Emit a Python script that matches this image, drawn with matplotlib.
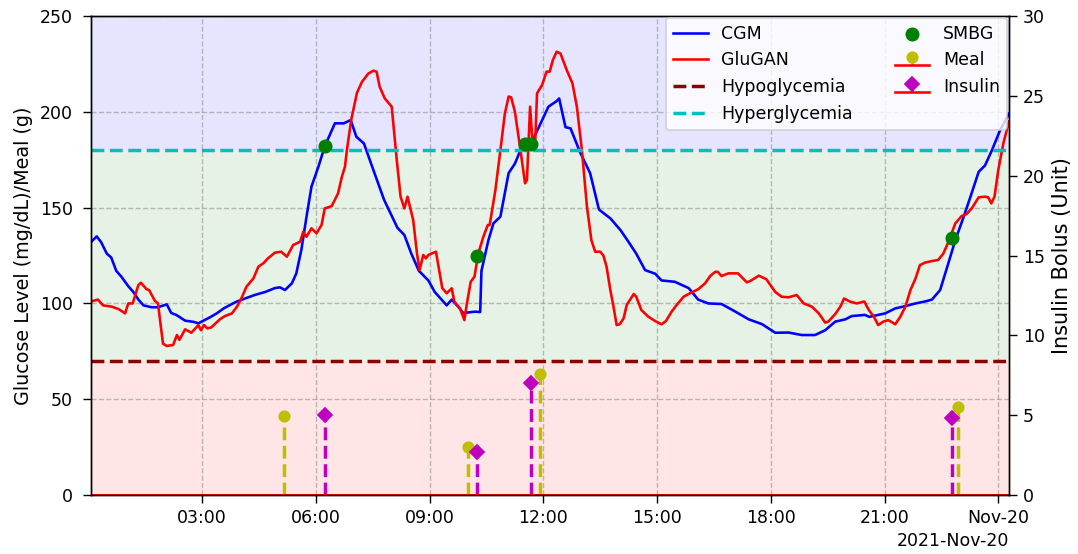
import matplotlib
matplotlib.use("Agg")
import matplotlib.pyplot as plt
import matplotlib.dates as mdates
import numpy as np
import pandas as pd

day0 = pd.Timestamp("2021-11-19")

# CGM trace (clock time on 2021-11-19, hours >= 24 roll into next day)
cgm_time = [
    "00:04", "00:13", "00:20", "00:29", "00:36", "00:44", "00:52", "01:03", "01:11", "01:19",
    "01:27", "01:40", "01:50", "02:04", "02:11", "02:19", "02:33", "02:46", "02:54", "03:02",
    "03:12", "03:23", "03:34", "03:47", "03:55", "04:08", "04:23", "04:40", "04:55", "05:03",
    "05:11", "05:22", "05:29", "05:37", "05:45", "05:53", "06:04", "06:14", "06:30", "06:44",
    "06:55", "07:04", "07:16", "07:31", "07:48", "08:09", "08:20", "08:31", "08:43", "08:58",
    "09:08", "09:27", "09:35", "09:46", "09:53", "10:12", "10:20", "10:22", "10:33", "10:41",
    "10:52", "11:05", "11:15", "11:26", "11:39", "11:52", "12:08", "12:21", "12:25", "12:35",
    "12:43", "12:58", "13:14", "13:28", "13:46", "14:02", "14:13", "14:27", "14:41", "14:57",
    "15:07", "15:28", "15:50", "16:05", "16:21", "16:42", "17:04", "17:25", "17:46", "18:07",
    "18:28", "18:49", "19:10", "19:26", "19:42", "19:58", "20:08", "20:29", "20:36", "21:01",
    "21:17", "21:33", "21:49", "22:04", "22:15", "22:28", "22:41", "22:52", "23:05", "23:16",
    "23:29", "23:39", "23:50", "24:03", "24:17",
]
cgm_value = [
    132, 135, 132, 126, 124, 117, 114, 109, 106, 102,
    99, 98, 98, 99.5, 95, 94, 91, 90.4, 89.6, 91,
    92.7, 94.8, 97.4, 99.7, 101, 102.6, 104.4, 106, 108, 108.4,
    107, 110.5, 115.7, 128, 145, 161, 171.4, 182, 194, 194,
    195.7, 187, 183.5, 169.6, 154, 139.5, 135.7, 126, 117, 112,
    106, 99, 102, 98, 95, 95.7, 95.5, 117, 133, 141.8,
    145.3, 168, 173, 181.8, 182.7, 191.4, 202.7, 205.6, 207, 192,
    191.4, 179, 168, 149, 144.4, 138.3, 133, 126, 117.4, 115.5,
    112, 111.3, 108, 102, 100, 99.7, 95.7, 91.7, 89.2, 84.7,
    84.8, 83.5, 83.5, 86, 90.5, 91.7, 93.4, 94, 93, 94.8,
    97.4, 98.6, 100, 101, 102, 107, 121, 133, 145, 155.7,
    168.7, 172, 180, 190.5, 199,
]

# GluGAN generated trace
gan_time = [
    "00:04", "00:15", "00:23", "00:37", "00:48", "00:58", "01:03", "01:10", "01:19", "01:23",
    "01:32", "01:36", "01:45", "01:50", "01:58", "02:04", "02:14", "02:20", "02:24", "02:33",
    "02:43", "02:54", "02:58", "03:03", "03:08", "03:14", "03:28", "03:36", "03:47", "03:55",
    "04:02", "04:10", "04:21", "04:29", "04:37", "04:44", "04:55", "05:05", "05:14", "05:24",
    "05:35", "05:40", "05:45", "05:53", "06:01", "06:09", "06:14", "06:25", "06:35", "06:41",
    "06:46", "06:49", "06:56", "07:05", "07:13", "07:23", "07:31", "07:36", "07:41", "07:49",
    "08:00", "08:08", "08:14", "08:20", "08:25", "08:34", "08:40", "08:44", "08:50", "08:54",
    "08:58", "09:10", "09:15", "09:20", "09:27", "09:35", "09:39", "09:48", "09:55", "09:59",
    "10:05", "10:11", "10:17", "10:25", "10:32", "10:35", "10:44", "10:52", "10:59", "11:05",
    "11:09", "11:15", "11:23", "11:31", "11:34", "11:39", "11:43", "11:47", "11:50", "11:58",
    "12:05", "12:10", "12:15", "12:21", "12:27", "12:37", "12:46", "12:53", "13:01", "13:09",
    "13:16", "13:22", "13:30", "13:35", "13:40", "13:46", "13:51", "13:56", "14:01", "14:07",
    "14:12", "14:23", "14:27", "14:35", "14:46", "14:57", "15:07", "15:14", "15:23", "15:31",
    "15:42", "15:52", "16:05", "16:16", "16:24", "16:32", "16:36", "16:42", "16:53", "17:08",
    "17:22", "17:28", "17:41", "17:53", "18:07", "18:17", "18:28", "18:41", "18:52", "19:05",
    "19:16", "19:26", "19:31", "19:42", "19:50", "19:56", "20:05", "20:16", "20:28", "20:35",
    "20:43", "20:50", "20:58", "21:06", "21:17", "21:25", "21:33", "21:41", "21:49", "21:56",
    "22:04", "22:15", "22:25", "22:33", "22:41", "22:52", "23:02", "23:10", "23:18", "23:29",
    "23:39", "23:44", "23:49", "23:54", "24:00", "24:08", "24:17",
]
gan_value = [
    101, 102, 99, 98.3, 97, 94.8, 100, 100, 109.6, 110.8,
    107.4, 107, 101.4, 100, 79, 77.8, 78.3, 83.5, 81, 86.5,
    84.7, 88.7, 86, 88.7, 87, 87.4, 91.7, 93.4, 94.8, 98.3,
    102.6, 108.7, 113, 119.2, 121, 123.5, 126.5, 127, 124.4, 130.5,
    132.2, 137.4, 134.8, 139.2, 136.6, 141, 149.6, 150.8, 157.4, 166,
    171.4, 180, 196, 210, 215.7, 220, 221.5, 221, 213, 207,
    202.7, 174.8, 155.7, 149.6, 155.7, 143.5, 126, 117.4, 125.3, 123.5,
    125.3, 127, 117.4, 108, 105.3, 107.9, 101, 97.4, 91.3, 100,
    111.3, 114, 126, 134.8, 140.9, 140.9, 159, 180, 199, 208,
    207.6, 200, 181.8, 162.7, 164.4, 202.7, 183.5, 183.5, 209.7, 214,
    221, 221, 227, 231.4, 230.5, 221.8, 214.9, 202.7, 180, 150.5,
    133, 127, 127, 125, 119.2, 107, 98.3, 88.7, 89.2, 92.2,
    99.2, 104.9, 103.5, 96.6, 93.1, 90.8, 89.1, 90.8, 95.7, 99.2,
    103.5, 105.3, 107.4, 110.5, 114.3, 116.5, 116.5, 114.3, 115.7, 115.7,
    111, 111.8, 114.5, 112.6, 106, 103.5, 103.2, 104.4, 100, 98.3,
    94.8, 90, 90.5, 94.5, 98.3, 102.6, 101, 100, 101, 96.6,
    93.1, 88.7, 90.5, 91.3, 89.1, 93.1, 98.3, 107, 113, 120,
    121.3, 122.1, 122.7, 126, 132, 141.8, 145.6, 146.7, 149.6, 155.4,
    155.7, 155.4, 152.2, 155.7, 169.6, 183.5, 195,
]

# finger-stick readings
smbg_time = ["06:14", "10:15", "11:31", "11:41", "22:46"]
smbg_value = [182, 125, 183, 183, 134]

# meals (g) and insulin boluses (Unit)
meal_time = ["05:09", "10:00", "11:55", "22:57"]
meal_g = [41, 25, 63, 46]
insulin_time = ["06:15", "10:15", "11:40", "22:47"]
insulin_unit = [5.0, 2.7, 7.0, 4.8]


def to_num(times):
    out = []
    for s in times:
        h, m = s.split(":")
        out.append(mdates.date2num(day0 + pd.Timedelta(hours=int(h), minutes=int(m))))
    return np.array(out)


t_cgm = to_num(cgm_time)
t_gan = to_num(gan_time)
t_smbg = to_num(smbg_time)
t_meal = to_num(meal_time)
t_ins = to_num(insulin_time)

fig, ax = plt.subplots(figsize=(1078 / 125, 554 / 125), dpi=125)
fig.subplots_adjust(left=0.0844, right=0.936, top=0.971, bottom=0.1065)

# glycemic ranges
ax.axhspan(0, 70, color="red", alpha=0.1, lw=0)
ax.axhspan(70, 180, color="green", alpha=0.1, lw=0)
ax.axhspan(180, 250, color="blue", alpha=0.1, lw=0)

ax.plot(t_cgm, cgm_value, "b-", lw=1.5, label="CGM")
ax.plot(t_gan, gan_value, "r-", lw=1.5, label="GluGAN")
ax.axhline(70, color="darkred", ls="--", lw=2, label="Hypoglycemia")
ax.axhline(180, color="c", ls="--", lw=2, label="Hyperglycemia")
ax.scatter(t_smbg, smbg_value, c="green", s=50, zorder=3, label="SMBG")

meal_st = ax.stem(t_meal, meal_g, linefmt="y--", markerfmt="yo", basefmt="r-", label="Meal")
meal_st.stemlines.set_linewidth(2)
meal_st.baseline.set_xdata([t_cgm[0], t_cgm[-1]])

ax.set_xlim(t_cgm[0], t_cgm[-1])
ax.set_ylim(0, 250)
ax.xaxis_date()
loc = mdates.HourLocator(byhour=range(0, 24, 3))
ax.xaxis.set_major_locator(loc)
ax.xaxis.set_major_formatter(mdates.ConciseDateFormatter(loc))
ax.tick_params(axis="both", length=4.5)
ax.tick_params(axis="y", pad=6)
ax.grid(True, ls="--", color="gray", alpha=0.5)
ax.set_ylabel("Glucose Level (mg/dL)/Meal (g)", fontsize=11)

ax2 = ax.twinx()
ins_st = ax2.stem(t_ins, insulin_unit, linefmt="m--", markerfmt="mD", basefmt="r-", label="Insulin")
ins_st.stemlines.set_linewidth(2)
ins_st.baseline.set_xdata([t_cgm[0], t_cgm[-1]])
ax2.set_ylim(0, 30)
ax2.tick_params(axis="y", length=4.5)
ax2.set_ylabel("Insulin Bolus (Unit)", fontsize=12)

h1, l1 = ax.get_legend_handles_labels()
h2, l2 = ax2.get_legend_handles_labels()
ax2.legend(h1 + h2, l1 + l2, loc="upper right", ncol=2,
           borderaxespad=0.1, columnspacing=2.4)

fig.savefig("out.png", dpi=125)
